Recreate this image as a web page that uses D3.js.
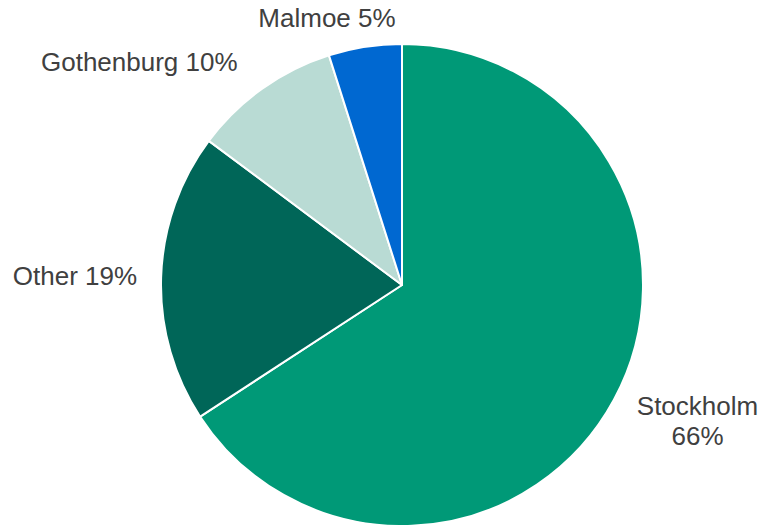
<!DOCTYPE html>
<html>
<head>
<meta charset="utf-8">
<script src="https://cdn.jsdelivr.net/npm/d3@7"></script>
<style>
  html, body { margin: 0; padding: 0; background: #fff; }
  svg text { font-family: "Liberation Sans", Arial, sans-serif; }
</style>
</head>
<body>
<svg id="chart" width="761" height="525"></svg>
<script>
// data (shares, labels show them rounded)
var cities = ["Stockholm", "Other", "Gothenburg", "Malmoe"];
var shares = [65.8, 19.4, 9.9, 4.9];
var colors = ["#009977", "#006658", "#b9dbd4", "#0068d1"];

var svg = d3.select("#chart"),
    cx = 402, cy = 285, radius = 241;

var g = svg.append("g").attr("transform", "translate(" + cx + "," + cy + ")");

var pie = d3.pie().sort(null).value(function (d) { return d; });
var arc = d3.arc().innerRadius(0).outerRadius(radius);
var labelArc = d3.arc().innerRadius(radius + 20).outerRadius(radius + 20);

var arcs = pie(shares);

g.selectAll("path.slice")
 .data(arcs)
 .enter().append("path")
 .attr("class", "slice")
 .attr("d", arc)
 .attr("fill", function (d, i) { return colors[i]; })
 .attr("stroke", "#fff")
 .attr("stroke-width", 2)
 .attr("stroke-linejoin", "round");

// label placement, nudged off the outer arc point like the original
var nudge = [[66, 6], [-4, 8], [-13, -1], [-35, 0]];
var anchor = ["middle", "end", "end", "middle"];

arcs.forEach(function (d, i) {
   var p = labelArc.centroid(d);
   var pct = Math.round(shares[i]) + "%";
   var t = g.append("text")
            .attr("x", p[0] + nudge[i][0])
            .attr("y", p[1] + nudge[i][1])
            .attr("text-anchor", anchor[i])
            .attr("font-size", "26px")
            .attr("fill", "#404040");
   if (i === 0) {
      t.append("tspan").attr("x", p[0] + nudge[i][0]).text(cities[i]);
      t.append("tspan").attr("x", p[0] + nudge[i][0]).attr("dy", 30).text(pct);
   } else {
      t.text(cities[i] + " " + pct);
   }
});
</script>
</body>
</html>
